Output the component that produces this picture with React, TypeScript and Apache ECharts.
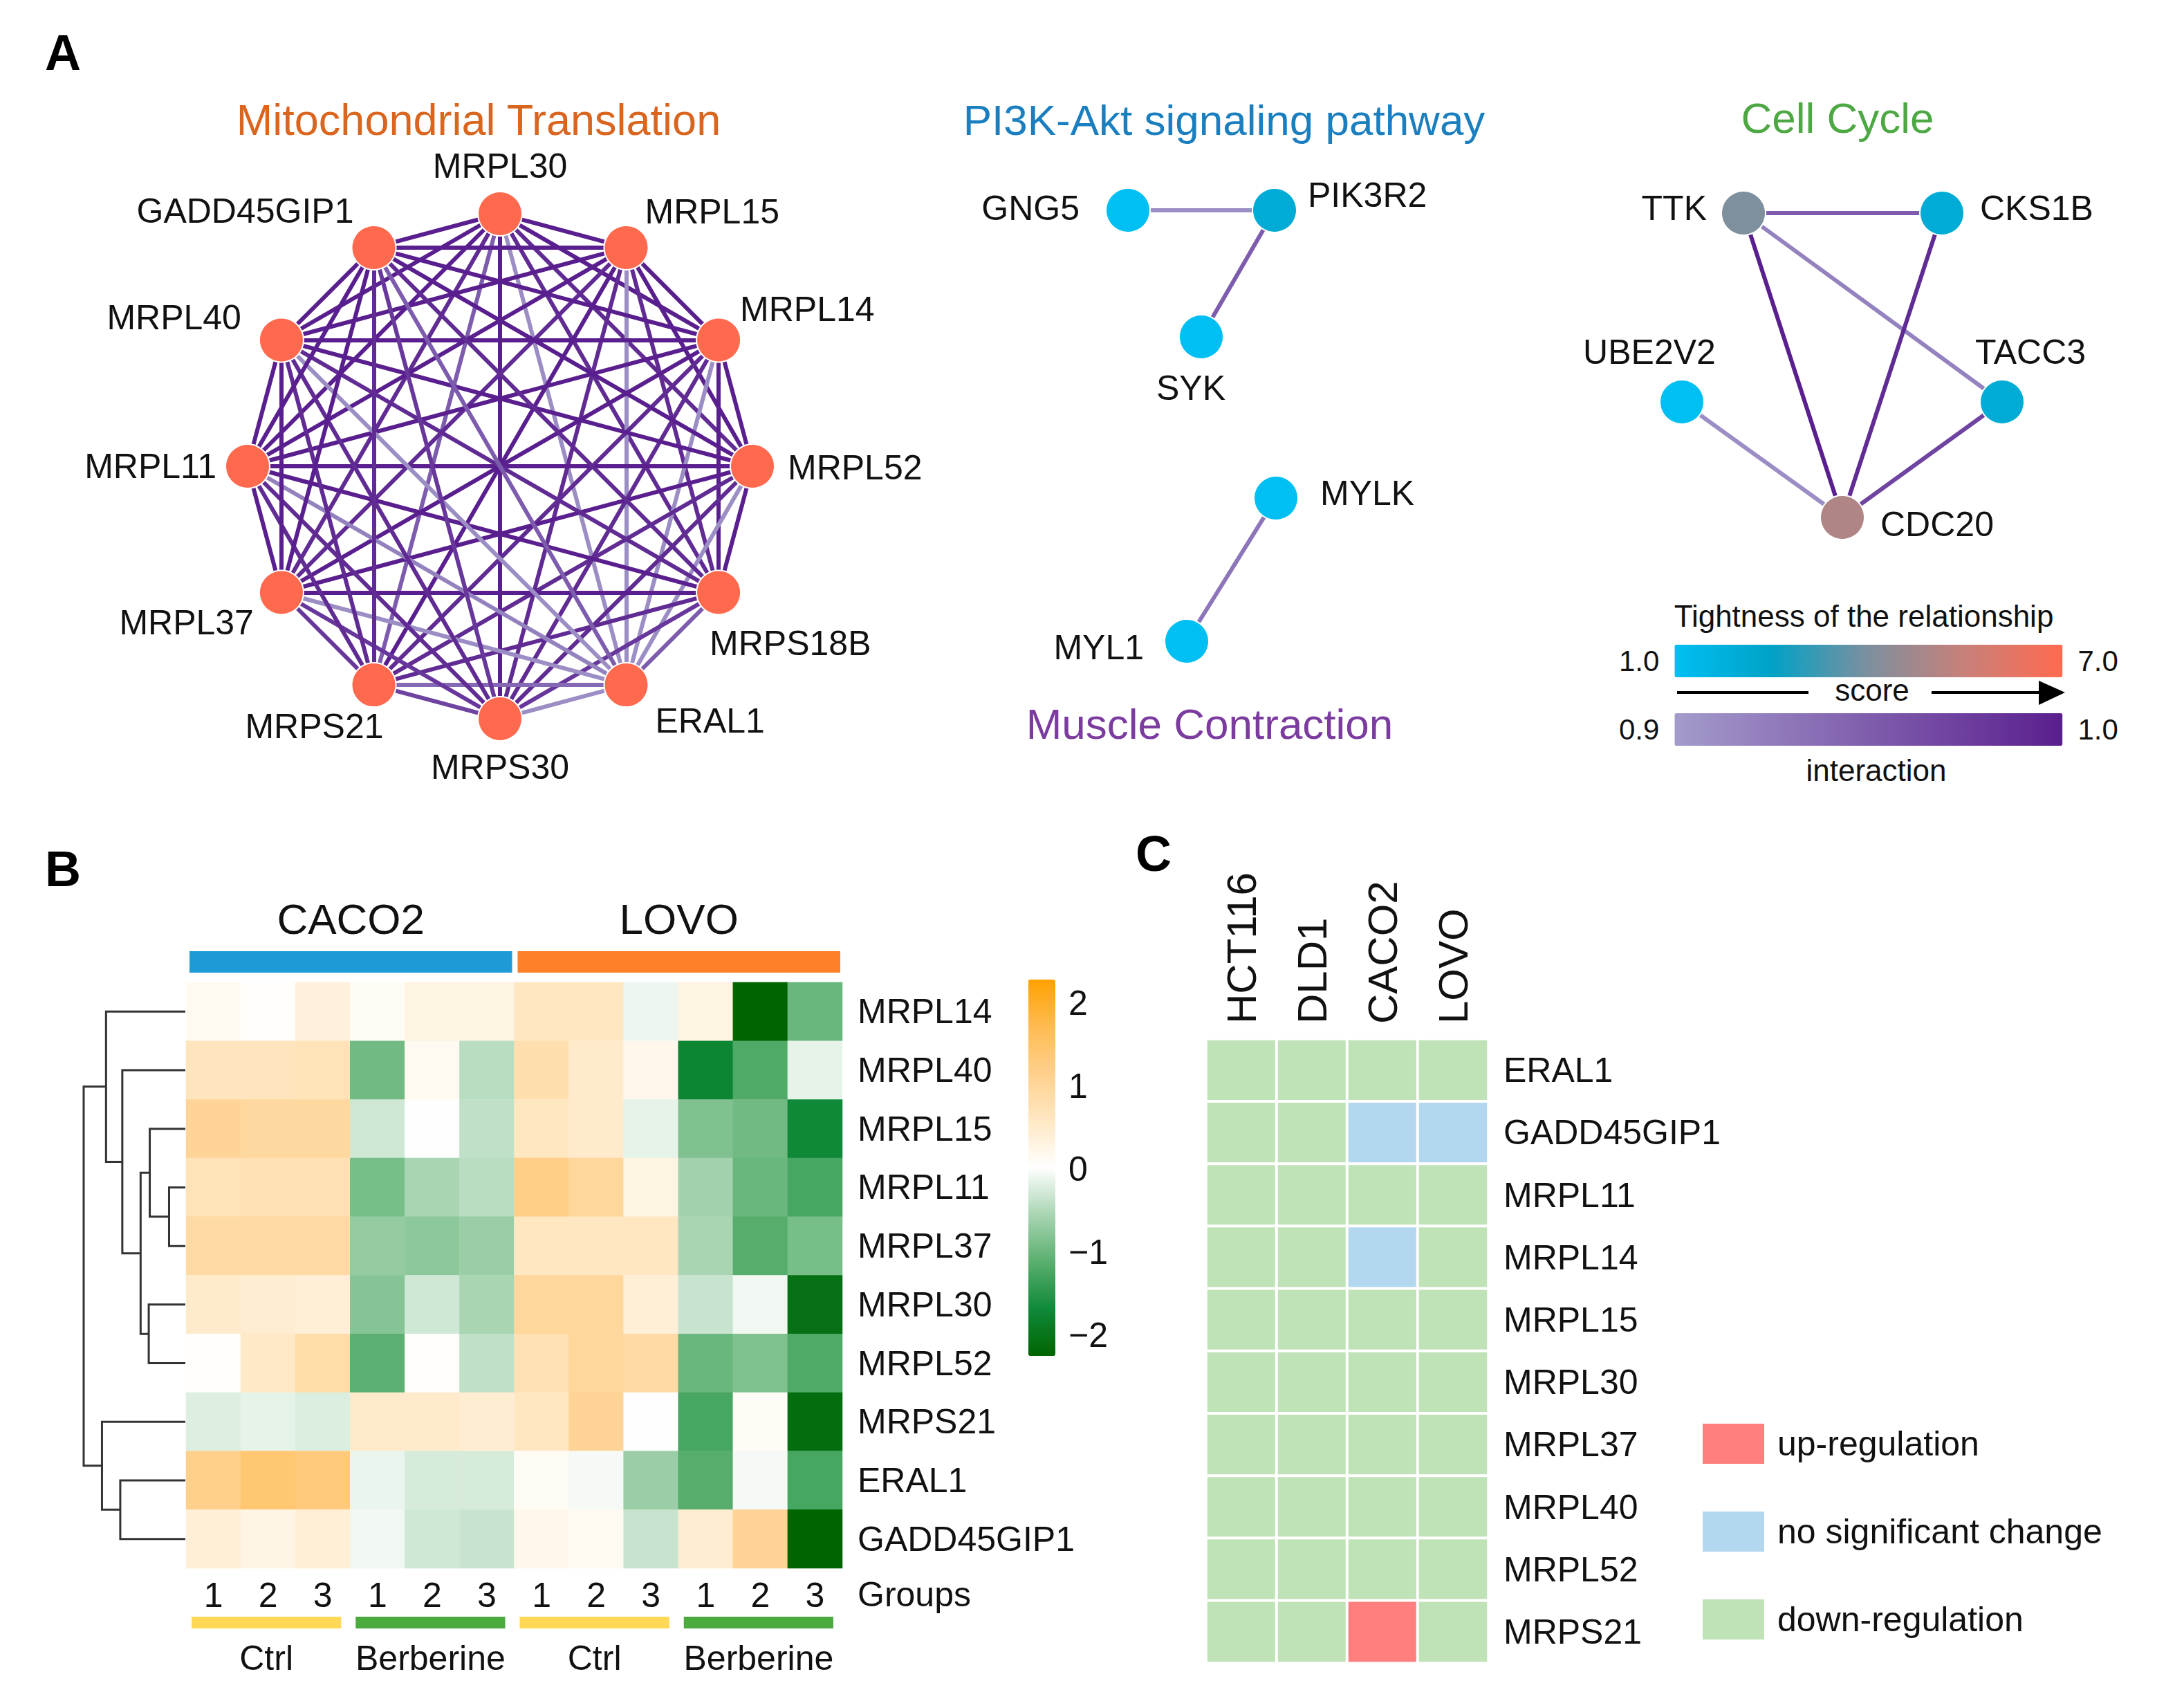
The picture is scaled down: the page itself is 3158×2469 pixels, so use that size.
import React, { useEffect, useRef } from 'react';
import * as echarts from 'echarts';

const W = 3158;
const H = 2469;
const FONT = '"Liberation Sans", Arial, Helvetica, sans-serif';

// ---------------- Panel A data ----------------
const mitoGenes = ['MRPL30', 'MRPL15', 'MRPL14', 'MRPL52', 'MRPS18B', 'ERAL1', 'MRPS30', 'MRPS21', 'MRPL37', 'MRPL11', 'MRPL40', 'GADD45GIP1'];
// layout coordinates (unit circle, y up)
const mitoLayout = [[0, 1], [0.5, 0.866], [0.866, 0.5], [1, 0], [0.866, -0.5], [0.5, -0.866], [0, -1], [-0.5, -0.866], [-0.866, -0.5], [-1, 0], [-0.866, 0.5], [-0.5, 0.866]];
const mitoScore = [7, 7, 7, 7, 7, 7, 7, 7, 7, 7, 7, 7];
const mitoEdges: [number, number, number][] = [
  [0, 1, 1.0], [0, 2, 1.0], [0, 3, 0.99], [0, 4, 0.99], [0, 5, 0.91], [0, 6, 1.0], [0, 7, 0.95], [0, 8, 0.99], [0, 9, 1.0], [0, 10, 1.0], [0, 11, 1.0],
  [1, 2, 1.0], [1, 3, 1.0], [1, 4, 0.99], [1, 5, 0.91], [1, 6, 0.99], [1, 7, 1.0], [1, 8, 0.99], [1, 9, 1.0], [1, 10, 1.0], [1, 11, 1.0],
  [2, 3, 1.0], [2, 4, 1.0], [2, 5, 0.91], [2, 6, 0.99], [2, 7, 0.99], [2, 8, 1.0], [2, 9, 1.0], [2, 10, 1.0], [2, 11, 1.0],
  [3, 4, 1.0], [3, 5, 0.91], [3, 6, 0.99], [3, 7, 0.99], [3, 8, 1.0], [3, 9, 1.0], [3, 10, 1.0], [3, 11, 1.0],
  [4, 5, 0.95], [4, 6, 0.98], [4, 7, 0.99], [4, 8, 1.0], [4, 9, 1.0], [4, 10, 0.99], [4, 11, 0.99],
  [5, 6, 0.91], [5, 7, 0.94], [5, 8, 0.91], [5, 9, 0.92], [5, 10, 0.91], [5, 11, 0.95],
  [6, 7, 0.97], [6, 8, 0.98], [6, 9, 0.99], [6, 10, 0.99], [6, 11, 0.98],
  [7, 8, 0.98], [7, 9, 0.99], [7, 10, 0.99], [7, 11, 0.99],
  [8, 9, 1.0], [8, 10, 1.0], [8, 11, 1.0],
  [9, 10, 1.0], [9, 11, 1.0],
  [10, 11, 1.0],
];

const pi3kGenes = ['GNG5', 'PIK3R2', 'SYK', 'MYLK', 'MYL1'];
const pi3kLayout = [[0.31, 0.34], [2.43, 0.34], [1.37, 2.17], [2.45, 4.5], [1.16, 6.57]];
const pi3kScore = [1, 2, 1, 1, 1];
const pi3kEdges: [number, number, number][] = [[0, 1, 0.91], [1, 2, 0.95], [3, 4, 0.93]];

const cellGenes = ['TTK', 'CKS1B', 'UBE2V2', 'TACC3', 'CDC20'];
const cellLayout = [[1.21, 0.38], [4.08, 0.38], [0.32, 3.11], [4.95, 3.11], [2.64, 4.78]];
const cellScore = [4, 2, 1, 2, 5];
const cellEdges: [number, number, number][] = [[0, 1, 0.95], [0, 3, 0.92], [0, 4, 1.0], [1, 4, 0.99], [3, 4, 0.97], [2, 4, 0.91]];

const scoreRange = [1, 7];
const interactionRange = [0.9, 1.0];
const scoreTicks = ['1.0', '7.0'];
const interactionTicks = ['0.9', '1.0'];

// ---------------- Panel B data ----------------
const rowsB = ['MRPL14', 'MRPL40', 'MRPL15', 'MRPL11', 'MRPL37', 'MRPL30', 'MRPL52', 'MRPS21', 'ERAL1', 'GADD45GIP1'];
const cellLinesB = ['CACO2', 'LOVO'];
const treatments = ['Ctrl', 'Berberine'];
const replicates = ['1', '2', '3'];
const heatB = [
  [0.15, 0.05, 0.35, 0.1, 0.3, 0.3, 0.6, 0.6, -0.1, 0.3, -2.25, -1.0],
  [0.65, 0.65, 0.7, -0.95, 0.15, -0.45, 0.8, 0.5, 0.2, -1.75, -1.2, -0.15],
  [1.05, 0.95, 0.95, -0.3, 0.0, -0.4, 0.6, 0.5, -0.15, -0.85, -0.95, -1.7],
  [0.7, 0.75, 0.75, -0.9, -0.55, -0.45, 1.2, 1.0, 0.3, -0.6, -1.0, -1.25],
  [0.9, 0.9, 0.9, -0.7, -0.75, -0.65, 0.6, 0.6, 0.6, -0.55, -1.15, -0.9],
  [0.5, 0.45, 0.4, -0.8, -0.3, -0.55, 1.0, 1.0, 0.4, -0.35, -0.08, -2.05],
  [0.05, 0.55, 0.85, -1.1, 0.05, -0.4, 0.75, 1.0, 0.9, -1.0, -0.85, -1.2],
  [-0.2, -0.15, -0.22, 0.5, 0.5, 0.45, 0.6, 1.05, 0.0, -1.25, 0.1, -2.1],
  [1.15, 1.4, 1.3, -0.12, -0.25, -0.25, 0.1, -0.05, -0.65, -1.15, -0.05, -1.25],
  [0.4, 0.25, 0.4, -0.08, -0.3, -0.35, 0.2, 0.15, -0.35, 0.45, 1.05, -2.25],
];
const heatBRange = [-2.25, 2.28];
const heatBTicks = [-2, -1, 0, 1, 2];
// dendrogram merges: [childA, childB, height]; leaves 0..9, merge k creates node 10+k
const dendroMerges: [number, number, number][] = [
  [3, 4, 0.16], [2, 10, 0.35], [5, 6, 0.36], [11, 12, 0.44], [1, 13, 0.62], [0, 14, 0.78], [8, 9, 0.64], [7, 16, 0.82], [15, 17, 1.0],
];

// ---------------- Panel C data ----------------
const rowsC = ['ERAL1', 'GADD45GIP1', 'MRPL11', 'MRPL14', 'MRPL15', 'MRPL30', 'MRPL37', 'MRPL40', 'MRPL52', 'MRPS21'];
const colsC = ['HCT116', 'DLD1', 'CACO2', 'LOVO'];
const regulation = [
  [-1, -1, -1, -1],
  [-1, -1, 0, 0],
  [-1, -1, -1, -1],
  [-1, -1, 0, -1],
  [-1, -1, -1, -1],
  [-1, -1, -1, -1],
  [-1, -1, -1, -1],
  [-1, -1, -1, -1],
  [-1, -1, -1, -1],
  [-1, -1, 1, -1],
];
const regulationLabels = ['up-regulation', 'no significant change', 'down-regulation'];
const regulationValues = [1, 0, -1];

// ---------------- styles ----------------
const scoreColors = ['#00bff3', '#00a2c6', '#7e8f9e', '#c98079', '#ff6a4f'];
const interactionColors = ['#a49bcb', '#7d5cae', '#5a1f8e'];
const heatBColors = ['#006400', '#0f8a3a', '#5aaf6f', '#a9d5b3', '#ffffff', '#ffe8c4', '#ffd08c', '#ffbb52', '#ffa200'];
const regulationColors = ['#ff7f7f', '#b3d7ee', '#bfe2b6'];
const topBarColors = ['#1e9bd7', '#fe8029'];
const bottomBarColors = ['#ffd857', '#4bab3f'];

const labelPlacement: Record<string, [string, number, number]> = {
  MRPL30: ['center', 0, -69], MRPL15: ['left', 27, -52], MRPL14: ['left', 31, -45], MRPL52: ['left', 51, 2],
  MRPS18B: ['left', -13, 73], ERAL1: ['left', 42, 52], MRPS30: ['center', 0, 70], MRPS21: ['center', -86, 60],
  MRPL37: ['right', -40, 43], MRPL11: ['right', -45, 0], MRPL40: ['right', -58, -33], GADD45GIP1: ['right', -29, -53],
  GNG5: ['right', -70, -3], PIK3R2: ['left', 48, -22], SYK: ['center', -15, 74], MYLK: ['left', 64, -7], MYL1: ['right', -62, 9],
  TTK: ['right', -53, -7], CKS1B: ['left', 55, -7], UBE2V2: ['center', -47, -72], TACC3: ['center', 41, -72], CDC20: ['left', 55, 10],
};

function hexToRgb(h: string) {
  const n = parseInt(h.slice(1), 16);
  return [(n >> 16) & 255, (n >> 8) & 255, n & 255];
}
function mix(stops: string[], t: number) {
  const tt = Math.max(0, Math.min(1, t));
  const seg = tt * (stops.length - 1);
  const i = Math.min(Math.floor(seg), stops.length - 2);
  const f = seg - i;
  const a = hexToRgb(stops[i]);
  const b = hexToRgb(stops[i + 1]);
  const c = a.map((v, k) => Math.round(v + (b[k] - v) * f));
  return `rgb(${c[0]},${c[1]},${c[2]})`;
}
const scoreColor = (v: number) => mix(scoreColors, (v - scoreRange[0]) / (scoreRange[1] - scoreRange[0]));
const edgeColor = (v: number) => mix(interactionColors, (v - interactionRange[0]) / (interactionRange[1] - interactionRange[0]));

function graphSeries(genes: string[], layout: number[][], scores: number[], edges: [number, number, number][], axisIdx: number) {
  return {
    type: 'graph',
    coordinateSystem: 'cartesian2d',
    xAxisIndex: axisIdx,
    yAxisIndex: axisIdx,
    symbol: 'circle',
    symbolSize: 64,
    silent: true,
    data: genes.map((g, i) => {
      const [al, dx, dy] = labelPlacement[g];
      return {
        name: g,
        value: layout[i],
        itemStyle: { color: scoreColor(scores[i]), borderColor: '#ffffff', borderWidth: 2 },
        label: { align: al, offset: [dx, dy] },
      };
    }),
    links: edges.map(([a, b, v]) => ({ source: genes[a], target: genes[b], value: v, lineStyle: { color: edgeColor(v) } })),
    lineStyle: { width: 6, opacity: 1, curveness: 0 },
    label: { show: true, position: 'inside', fontSize: 50, fontFamily: FONT, color: '#111' },
    emphasis: { disabled: true },
  };
}

function buildOption() {
  // heatmap B columns
  const colIds: string[] = [];
  const colRep: string[] = [];
  cellLinesB.forEach((cl) => treatments.forEach((tr) => replicates.forEach((r) => { colIds.push(`${cl} ${tr} ${r}`); colRep.push(r); })));
  const heatBData: number[][] = [];
  heatB.forEach((row, ri) => row.forEach((v, ci) => heatBData.push([ci, ri, v])));

  const nRep = replicates.length;
  const topGroups = cellLinesB.map((_, i) => [i * nRep * treatments.length, (i + 1) * nRep * treatments.length - 1, i]);
  const bottomGroups: number[][] = [];
  cellLinesB.forEach((_, i) => treatments.forEach((__, j) => {
    const s = (i * treatments.length + j) * nRep;
    bottomGroups.push([s, s + nRep - 1, j]);
  }));

  // dendrogram segments
  const pos: { y: number; h: number }[] = rowsB.map((_, i) => ({ y: i, h: 0 }));
  const dendroData: number[][] = [];
  dendroMerges.forEach(([a, b, h]) => {
    dendroData.push([pos[a].h, pos[a].y, h, pos[b].y, pos[b].h]);
    pos.push({ y: (pos[a].y + pos[b].y) / 2, h });
  });

  const heatCData: number[][] = [];
  regulation.forEach((row, ri) => row.forEach((v, ci) => heatCData.push([ci, ri, v])));

  const hidden = { show: false };
  const txt = (text: string, x: number, y: number, size: number, color = '#111', align = 'center', weight = 'normal') => ({
    type: 'text', x, y, silent: true,
    style: { text, fontSize: size, fontFamily: FONT, fill: color, align, verticalAlign: 'middle', fontWeight: weight },
  });

  return {
    animation: false,
    backgroundColor: '#ffffff',
    textStyle: { fontFamily: FONT },
    grid: [
      { left: 358, top: 309, width: 730, height: 730 },
      { left: 1600, top: 270, width: 300, height: 700 },
      { left: 2400, top: 270, width: 600, height: 500 },
      { left: 121, top: 1420, width: 147, height: 847 },
      { left: 269, top: 1420, width: 949, height: 847 },
      { left: 1487, top: 1416, width: 39, height: 544 },
      { left: 1744, top: 1502, width: 408, height: 902 },
    ],
    xAxis: [
      { type: 'value', gridIndex: 0, min: -1, max: 1, ...hidden },
      { type: 'value', gridIndex: 1, min: 0, max: 3, ...hidden },
      { type: 'value', gridIndex: 2, min: 0, max: 6, ...hidden },
      { type: 'value', gridIndex: 3, min: 0, max: 1, inverse: true, ...hidden },
      {
        type: 'category', gridIndex: 4, data: colIds, position: 'bottom',
        axisLine: { show: false }, axisTick: { show: false }, splitLine: { show: false },
        axisLabel: { interval: 0, margin: 14, fontSize: 50, color: '#111', fontFamily: FONT, formatter: (_v: string, i: number) => colRep[i] },
      },
      { type: 'value', gridIndex: 5, min: 0, max: 1, ...hidden },
      {
        type: 'category', gridIndex: 6, data: colsC, position: 'top',
        axisLine: { show: false }, axisTick: { show: false }, splitLine: { show: false },
        axisLabel: { interval: 0, rotate: -90, margin: 22, fontSize: 60, color: '#111', fontFamily: FONT },
      },
    ],
    yAxis: [
      { type: 'value', gridIndex: 0, min: -1, max: 1, ...hidden },
      { type: 'value', gridIndex: 1, min: 0, max: 7, inverse: true, ...hidden },
      { type: 'value', gridIndex: 2, min: 0, max: 5, inverse: true, ...hidden },
      { type: 'value', gridIndex: 3, min: -0.5, max: rowsB.length - 0.5, inverse: true, ...hidden },
      {
        type: 'category', gridIndex: 4, data: rowsB, inverse: true, position: 'right',
        axisLine: { show: false }, axisTick: { show: false }, splitLine: { show: false },
        axisLabel: { margin: 22, fontSize: 50, color: '#111', fontFamily: FONT },
      },
      {
        type: 'value', gridIndex: 5, min: heatBRange[0], max: heatBRange[1], position: 'right',
        axisLine: { show: false }, axisTick: { show: false }, splitLine: { show: false },
        axisLabel: {
          customValues: heatBTicks, margin: 19, fontSize: 50, color: '#111', fontFamily: FONT,
          formatter: (v: number) => (v < 0 ? '\u2212' + Math.abs(v) : String(v)),
        },
      },
      {
        type: 'category', gridIndex: 6, data: rowsC, inverse: true, position: 'right',
        axisLine: { show: false }, axisTick: { show: false }, splitLine: { show: false },
        axisLabel: { margin: 22, fontSize: 50, color: '#111', fontFamily: FONT },
      },
    ],
    visualMap: [
      {
        type: 'continuous', seriesIndex: 4, dimension: 2, min: heatBRange[0], max: heatBRange[1],
        inRange: { color: heatBColors }, orient: 'vertical', left: 1487, top: 1416,
        itemWidth: 39, itemHeight: 544, calculable: false, padding: 0, hoverLink: false,
      },
      {
        type: 'piecewise', seriesIndex: 7, dimension: 2, orient: 'vertical', align: 'left', left: 2462, top: 2058,
        pieces: regulationValues.map((v, i) => ({ value: v, label: regulationLabels[i], color: regulationColors[i] })),
        itemWidth: 89, itemHeight: 58, itemGap: 69, textGap: 19, itemSymbol: 'rect', padding: 0, hoverLink: false,
        textStyle: { fontSize: 50, color: '#111', fontFamily: FONT },
      },
      {
        type: 'continuous', seriesIndex: [], min: scoreRange[0], max: scoreRange[1],
        inRange: { color: scoreColors }, orient: 'horizontal', left: 2341, top: 932,
        itemWidth: 47, itemHeight: 561, calculable: false, padding: 0, hoverLink: false,
        text: [scoreTicks[1], scoreTicks[0]], textGap: 22, textStyle: { fontSize: 42, color: '#111', fontFamily: FONT },
      },
      {
        type: 'continuous', seriesIndex: [], min: interactionRange[0], max: interactionRange[1],
        inRange: { color: [interactionColors[0], interactionColors[2]] }, orient: 'horizontal', left: 2341, top: 1031,
        itemWidth: 47, itemHeight: 561, calculable: false, padding: 0, hoverLink: false,
        text: [interactionTicks[1], interactionTicks[0]], textGap: 22, textStyle: { fontSize: 42, color: '#111', fontFamily: FONT },
      },
    ],
    series: [
      graphSeries(mitoGenes, mitoLayout, mitoScore, mitoEdges, 0),
      graphSeries(pi3kGenes, pi3kLayout, pi3kScore, pi3kEdges, 1),
      graphSeries(cellGenes, cellLayout, cellScore, cellEdges, 2),
      {
        type: 'custom', xAxisIndex: 3, yAxisIndex: 3, silent: true, clip: false,
        encode: { x: [0, 2, 4], y: [1, 3] },
        data: dendroData,
        renderItem: (_p: any, api: any) => {
          const p1 = api.coord([api.value(0), api.value(1)]);
          const p2 = api.coord([api.value(2), api.value(1)]);
          const p3 = api.coord([api.value(2), api.value(3)]);
          const p4 = api.coord([api.value(4), api.value(3)]);
          return { type: 'polyline', shape: { points: [p1, p2, p3, p4] }, style: { stroke: '#333', lineWidth: 3, fill: 'none' } };
        },
      },
      {
        type: 'heatmap', xAxisIndex: 4, yAxisIndex: 4, data: heatBData, silent: true,
        emphasis: { disabled: true },
      },
      {
        type: 'custom', xAxisIndex: 4, yAxisIndex: 4, silent: true, clip: false,
        encode: { x: [0, 1], y: 2 },
        data: topGroups,
        renderItem: (params: any, api: any) => {
          const bw = api.size([1, 0])[0];
          const x0 = api.coord([api.value(0), 0])[0] - bw / 2 + 5;
          const x1 = api.coord([api.value(1), 0])[0] + bw / 2 - 3;
          const g = api.value(2);
          const cs = params.coordSys;
          return {
            type: 'group',
            children: [
              { type: 'rect', shape: { x: x0, y: cs.y - 45, width: x1 - x0, height: 31 }, style: { fill: topBarColors[g] } },
              { type: 'text', style: { text: cellLinesB[g], x: (x0 + x1) / 2, y: cs.y - 92, align: 'center', verticalAlign: 'middle', fontSize: 62, fontFamily: FONT, fill: '#111' } },
            ],
          };
        },
      },
      {
        type: 'custom', xAxisIndex: 4, yAxisIndex: 4, silent: true, clip: false,
        encode: { x: [0, 1], y: 2 },
        data: bottomGroups,
        renderItem: (params: any, api: any) => {
          const bw = api.size([1, 0])[0];
          const x0 = api.coord([api.value(0), 0])[0] - bw / 2 + 8;
          const x1 = api.coord([api.value(1), 0])[0] + bw / 2 - 13;
          const g = api.value(2);
          const cs = params.coordSys;
          const yb = cs.y + cs.height;
          return {
            type: 'group',
            children: [
              { type: 'rect', shape: { x: x0, y: yb + 70, width: x1 - x0, height: 17 }, style: { fill: bottomBarColors[g] } },
              { type: 'text', style: { text: treatments[g], x: (x0 + x1) / 2, y: yb + 130, align: 'center', verticalAlign: 'middle', fontSize: 50, fontFamily: FONT, fill: '#111' } },
            ],
          };
        },
      },
      {
        type: 'heatmap', xAxisIndex: 6, yAxisIndex: 6, data: heatCData, silent: true,
        itemStyle: { borderColor: '#ffffff', borderWidth: 4 },
        emphasis: { disabled: true },
      },
    ],
    graphic: [
      txt('A', 91, 76, 72, '#000', 'center', 'bold'),
      txt('B', 91, 1256, 72, '#000', 'center', 'bold'),
      txt('C', 1668, 1234, 72, '#000', 'center', 'bold'),
      txt('Mitochondrial Translation', 692, 173, 63, '#d9651e'),
      txt('PI3K-Akt signaling pathway', 1770, 173, 62, '#1b7fbf'),
      txt('Cell Cycle', 2657, 170, 62, '#4da843'),
      txt('Muscle Contraction', 1749, 1046, 62, '#7b3b9f'),
      txt('Tightness of the relationship', 2695, 890, 44),
      txt('score', 2707, 997, 44),
      txt('interaction', 2713, 1113, 44),
      txt('Groups', 1240, 2305, 50, '#111', 'left'),
      { type: 'line', silent: true, shape: { x1: 2425, y1: 1001, x2: 2615, y2: 1001 }, style: { stroke: '#000', lineWidth: 4 } },
      { type: 'line', silent: true, shape: { x1: 2793, y1: 1001, x2: 2952, y2: 1001 }, style: { stroke: '#000', lineWidth: 4 } },
      { type: 'polygon', silent: true, shape: { points: [[2948, 984], [2948, 1019], [2986, 1001]] }, style: { fill: '#000' } },
    ],
  };
}

export default function App() {
  const ref = useRef<HTMLDivElement>(null);
  useEffect(() => {
    if (!ref.current) return;
    const chart = echarts.init(ref.current, null, { renderer: 'svg' });
    chart.setOption(buildOption() as any);
    return () => chart.dispose();
  }, []);
  return <div ref={ref} style={{ position: 'absolute', left: 0, top: 0, width: W, height: H, background: '#fff' }} />;
}
